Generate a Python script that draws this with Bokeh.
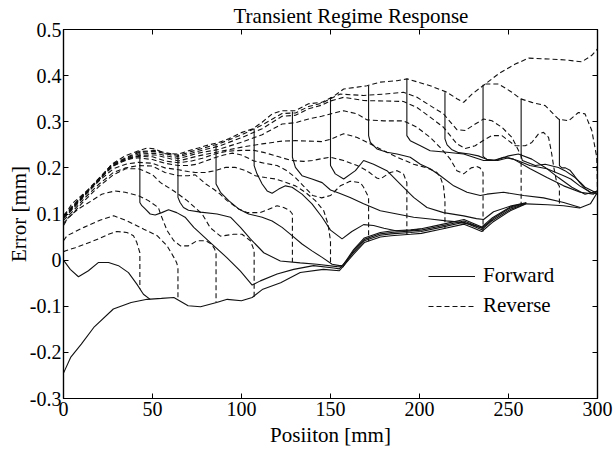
from bokeh.plotting import figure
from bokeh.models import FixedTicker, LinearAxis, Range1d, Legend, LegendItem
from bokeh.embed import file_html
from bokeh.resources import INLINE

# ---------------- data (Position [mm], Error [mm]) ----------------
title_text = "Transient Regime Response"
x_ticks = [0, 50, 100, 150, 200, 250, 300]
y_ticks = [-0.3, -0.2, -0.1, 0, 0.1, 0.2, 0.3, 0.4, 0.5]
y_tick_labels = ["-0.3", "-0.2", "-0.1", "0", "0.1", "0.2", "0.3", "0.4", "0.5"]

# Forward (solid) curves
S0_x = [0,4,10,17,28,38,47,55,62,70,77,86,92,100,106,112,122,133,146,155,163,169,178,184,195,201,212,225,230,235,241,251,260,272,281,290,296,300]
S0_y = [-0.245,-0.211,-0.182,-0.146,-0.106,-0.092,-0.085,-0.083,-0.081,-0.099,-0.101,-0.092,-0.085,-0.088,-0.081,-0.063,-0.049,-0.027,-0.020,-0.023,0.013,0.038,0.050,0.053,0.056,0.058,0.067,0.078,0.070,0.062,0.082,0.107,0.122,0.120,0.118,0.113,0.122,0.147]
SA_x = [0,3.8,8.4,14,19.7,25.3,30.9,36.5,41.2,44.9,48.7]
SA_y = [0.0,-0.02,-0.036,-0.023,-0.005,-0.005,-0.012,-0.027,-0.052,-0.074,-0.085]
SB1_x = [42.9,42.9,44,45.9,48.7,51.5,55.2,59,63.6,68.3,73.2,82.5,91.9,99.4,106,110.6,120,129.3,140.5,151.8,155,163,169,178,184,195,201,212,225,230,235,241,251,260]
SB1_y = [0.237,0.125,0.118,0.111,0.1,0.098,0.103,0.109,0.103,0.093,0.071,0.038,0.005,-0.024,-0.054,-0.045,-0.03,-0.02,-0.012,-0.017,-0.019,0.017,0.042,0.054,0.057,0.06,0.062,0.071,0.082,0.074,0.066,0.086,0.11,0.123]
SB2_x = [64.3,64.3,65.5,67.4,70.2,77,86.3,93.8,99.4,105,112.5,121.8,133,142.4,153.7,157,163,169,178,184,195,201,212,225,230,235,241,251,260]
SB2_y = [0.23,0.136,0.125,0.114,0.108,0.104,0.1,0.093,0.071,0.046,0.016,-0.002,-0.006,-0.009,-0.014,-0.015,0.02,0.045,0.057,0.06,0.063,0.065,0.074,0.085,0.077,0.069,0.089,0.113,0.124]
SB3_x = [85.7,85.7,88.2,92.8,98.4,104,111.6,117.2,122.8,128.4,134,139.6,145.3,150.9,155,157,163,169,178,184,195,201,212,225,230,235,241,251,260]
SB3_y = [0.25,0.165,0.147,0.129,0.111,0.1,0.093,0.085,0.071,0.053,0.035,0.02,0.006,-0.009,-0.012,-0.011,0.023,0.048,0.06,0.063,0.066,0.068,0.077,0.088,0.08,0.072,0.092,0.115,0.125]
SB4_x = [107.1,107.1,108.7,111.6,114.4,117.2,120.9,124.7,128.4,134,139.6,145.3,150,156.5,162,168.6,174.2,180,187.4,195,201]
SB4_y = [0.284,0.205,0.187,0.165,0.15,0.145,0.154,0.161,0.158,0.143,0.122,0.093,0.065,0.046,0.062,0.077,0.075,0.069,0.063,0.064,0.068]
SB5_x = [128.6,128.6,130.3,134,139.6,145.3,150,155,161,168.6,178,187.4,196.7,206,215,221,228,235,241]
SB5_y = [0.322,0.223,0.201,0.183,0.176,0.168,0.152,0.145,0.136,0.122,0.107,0.1,0.093,0.089,0.085,0.083,0.078,0.07,0.088]
SB6_x = [150,150,152.7,157.4,164,168.6,174.2,181.7,189.2,196.7,204.2,213.5,224.8,232,236,241.6,251,258.5]
SB6_y = [0.353,0.205,0.187,0.176,0.194,0.216,0.208,0.194,0.165,0.136,0.114,0.103,0.096,0.09,0.088,0.105,0.117,0.123]
SB7_x = [171.4,171.4,172.4,176.1,181.7,187.4,194.8,200.5,206,211.7,219.2,226.7,234.1,237.9,247.2,258.5,269.7,281,290.3]
SB7_y = [0.378,0.27,0.255,0.241,0.234,0.23,0.223,0.208,0.198,0.183,0.161,0.147,0.14,0.143,0.147,0.14,0.135,0.125,0.114]
SB8_x = [192.9,192.9,194.8,200.5,206,215.4,224.8,230.4,236,241.6,247.2,252.8,262.2,271.6,281,290.3,297.8,300]
SB8_y = [0.393,0.27,0.259,0.248,0.237,0.234,0.23,0.223,0.216,0.216,0.223,0.219,0.198,0.179,0.161,0.147,0.143,0.15]
SB9_x = [214.3,214.3,215.5,218,222,228,233,238,244,250,255,262,271.6,281,285,290,296,300]
SB9_y = [0.364,0.263,0.25,0.24,0.233,0.23,0.226,0.218,0.216,0.222,0.216,0.205,0.198,0.183,0.176,0.161,0.147,0.143]
SB10_x = [235.7,235.7,238,242.6,250,255.6,263.1,270.6,278,285.6,293,300]
SB10_y = [0.38,0.225,0.218,0.216,0.226,0.23,0.219,0.201,0.179,0.158,0.143,0.15]
SB11_x = [257.1,257.1,257.8,260.4,265,270.6,278,281.7,287.4,290.5,293,298.7,300]
SB11_y = [0.35,0.225,0.216,0.212,0.205,0.208,0.201,0.194,0.179,0.168,0.158,0.147,0.15]
SB12_x = [278.6,278.6,280,282,284.5,287,290,293,296,300]
SB12_y = [0.306,0.205,0.2,0.2,0.195,0.183,0.168,0.155,0.147,0.145]

# Reverse (dashed) curves
R0_x = [0,1,4.7,12.2,19.7,27.1,34.6,42.1,46.8,51.5,57.1,64.6,70.2,75.8,79.7,87.2,92.8,100.3,106,111.6,117.2,122.8,130.3,137.7,145,150.9,157.4,165,170.5,178,187.4,193,206,215.4,221,224.8,229.5,237,244.4,253.8,261.3,272.5,282,291.2,296.8,300]
R0_y = [0.098,0.1,0.122,0.147,0.172,0.208,0.226,0.237,0.243,0.241,0.231,0.23,0.237,0.243,0.248,0.255,0.263,0.277,0.284,0.299,0.317,0.324,0.324,0.339,0.342,0.353,0.371,0.375,0.378,0.386,0.389,0.393,0.378,0.364,0.35,0.342,0.36,0.382,0.404,0.425,0.438,0.436,0.434,0.43,0.444,0.458]
DB_x = [237,244.4,251.9,256.6,263.1,270.6,276.2,278,283.7,289.3,293,296.8,299.6,300]
DB_y = [0.382,0.382,0.364,0.35,0.342,0.335,0.313,0.306,0.302,0.32,0.317,0.281,0.223,0.15]
RA1_x = [0,0.9,6.6,12.2,19.7,25.3,29.9,35.6,39.3,41.2,42.9,42.9]
RA1_y = [0.018,0.02,0.027,0.035,0.046,0.056,0.062,0.06,0.053,0.038,0.016,-0.062]
RA2_x = [0,2,11.4,20.8,28.2,35.8,45.1,52.6,58.2,62,63.5,64.3,64.3]
RA2_y = [0.042,0.053,0.071,0.087,0.096,0.085,0.067,0.053,0.031,0.006,-0.005,-0.016,-0.081]
RA3_x = [0,2.8,8.4,15.9,21.5,29,34.6,42,47.7,53.3,54.5,58.2,62,65.7,70.2,75,80,83,84.8,85.7,85.7]
RA3_y = [0.075,0.093,0.111,0.129,0.143,0.15,0.147,0.14,0.129,0.114,0.1,0.064,0.042,0.031,0.031,0.042,0.042,0.035,0.025,0.016,-0.092]
RA4_x = [0,5,12,20,28,35,42,45,50,54.5,62,69.5,77.9,82.5,88.2,95.6,100.3,105,106.5,107.1,107.1]
RA4_y = [0.08,0.1,0.13,0.16,0.185,0.198,0.198,0.194,0.185,0.168,0.15,0.129,0.1,0.07,0.052,0.056,0.056,0.042,0.027,0.02,-0.08]
RA5_x = [0,5,12,20,28,35,42,50,57,64.6,70,74,80,85,88,91.9,98.4,103.1,110.6,115,120,123.7,127,128.6,128.6]
RA5_y = [0.086,0.105,0.135,0.165,0.19,0.2,0.205,0.204,0.19,0.183,0.183,0.185,0.165,0.152,0.143,0.129,0.111,0.103,0.103,0.11,0.118,0.114,0.108,0.1,-0.004]
RA6_x = [0,5,12,20,28,35,42,50,57,64.6,70,74,79.7,85.3,91,96.6,102.2,107.8,113.4,119,124.7,130.3,135.9,141.5,146.2,148.6,150,150]
RA6_y = [0.09,0.11,0.14,0.172,0.198,0.208,0.212,0.21,0.2,0.196,0.192,0.19,0.19,0.194,0.201,0.201,0.194,0.183,0.179,0.176,0.169,0.161,0.147,0.129,0.107,0.078,0.042,-0.009]
RA7_x = [0,5,12,20,28,35,42,50,57,64.6,70,75,80,85,90,95,100,107,113,120,125,130,135,140,145,150,155.5,161,166.8,168.6,171.4,171.4]
RA7_y = [0.092,0.112,0.142,0.175,0.204,0.218,0.222,0.218,0.21,0.205,0.205,0.208,0.215,0.222,0.228,0.232,0.228,0.215,0.21,0.205,0.195,0.18,0.16,0.14,0.135,0.14,0.161,0.171,0.168,0.158,0.136,0.041]
RA8_x = [0,5,12,20,28,35,42,50,57,64.6,72,78,85,92,100,107,113,120,128,135,140,145,150,157.4,165,170.5,176,178,183.6,187.4,191,192.9,192.9]
RA8_y = [0.093,0.113,0.143,0.176,0.205,0.22,0.225,0.224,0.215,0.211,0.215,0.221,0.23,0.236,0.238,0.238,0.233,0.225,0.216,0.214,0.216,0.22,0.223,0.216,0.205,0.194,0.178,0.176,0.19,0.194,0.187,0.168,0.055]
RA9_x = [0,12.2,27.1,42.1,51.5,64.6,75.8,87.2,100.3,111.6,122.8,130.3,137.7,145,150,157.4,165,172.4,180,187.4,196.7,204.2,209.8,211.7,213.5,214.3,214.3]
RA9_y = [0.094,0.143,0.204,0.227,0.228,0.215,0.226,0.235,0.245,0.252,0.258,0.259,0.258,0.257,0.262,0.274,0.266,0.252,0.237,0.223,0.208,0.2,0.19,0.18,0.16,0.13,0.068]
RA10_x = [0,12.2,27.1,42.1,51.5,64.6,75.8,87.2,100.3,111.6,122.8,130.3,137.7,145,150,157.4,165,170.5,180,191,198.6,206,211.7,217.3,221,224.8,229,232,234,235.7,235.7]
RA10_y = [0.095,0.144,0.205,0.23,0.232,0.22,0.232,0.24,0.256,0.272,0.295,0.298,0.306,0.312,0.317,0.324,0.317,0.304,0.302,0.302,0.288,0.266,0.244,0.219,0.194,0.187,0.2,0.203,0.2,0.19,0.062]
RA11_x = [0,12.2,27.1,42.1,51.5,64.6,75.8,87.2,100.3,111.6,122.8,130.3,137.7,145,150,155.5,168.6,180,191,198.6,206,213.5,221,225.7,231.3,236,240.7,246.3,251.9,253.8,255.7,257.1,257.1]
RA11_y = [0.097,0.146,0.207,0.235,0.238,0.227,0.24,0.252,0.272,0.293,0.318,0.319,0.333,0.34,0.35,0.36,0.357,0.36,0.364,0.353,0.335,0.317,0.283,0.281,0.295,0.306,0.302,0.288,0.266,0.252,0.237,0.23,0.122]
RA12_x = [0,12.2,27.1,42.1,51.5,64.6,75.8,87.2,100.3,111.6,122.8,130.3,137.7,145,150,157.4,168.6,180,191,198.6,206,213.5,221,225.7,231.3,236,240.7,246.3,250,253.8,259.4,263.1,266.9,269.7,272.5,274,275.5,277,278.6,278.6]
RA12_y = [0.096,0.145,0.206,0.233,0.236,0.224,0.236,0.247,0.266,0.285,0.312,0.314,0.328,0.336,0.345,0.353,0.346,0.345,0.344,0.331,0.31,0.288,0.252,0.242,0.248,0.26,0.27,0.27,0.259,0.248,0.248,0.255,0.274,0.277,0.266,0.237,0.2,0.17,0.16,0.118]

forward = [(S0_x, S0_y), (SA_x, SA_y), (SB1_x, SB1_y), (SB2_x, SB2_y), (SB3_x, SB3_y),
           (SB4_x, SB4_y), (SB5_x, SB5_y), (SB6_x, SB6_y), (SB7_x, SB7_y), (SB8_x, SB8_y),
           (SB9_x, SB9_y), (SB10_x, SB10_y), (SB11_x, SB11_y), (SB12_x, SB12_y)]
reverse = [(R0_x, R0_y), (DB_x, DB_y), (RA1_x, RA1_y), (RA2_x, RA2_y), (RA3_x, RA3_y),
           (RA4_x, RA4_y), (RA5_x, RA5_y), (RA6_x, RA6_y), (RA7_x, RA7_y), (RA8_x, RA8_y),
           (RA9_x, RA9_y), (RA10_x, RA10_y), (RA11_x, RA11_y), (RA12_x, RA12_y)]

# ---------------- figure ----------------
FONT = "Liberation Serif"
p = figure(width=615, height=452, x_range=Range1d(0, 300), y_range=Range1d(-0.3, 0.5),
           output_backend="svg", toolbar_location=None,
           min_border_left=63, min_border_right=18, min_border_top=29, min_border_bottom=54)
p.background_fill_color = "white"
p.border_fill_color = "white"
p.grid.visible = False
p.outline_line_color = "black"
p.outline_line_width = 1.2

p.title.text = title_text
p.title.text_font = FONT
p.title.text_font_size = "21px"
p.title.text_font_style = "normal"
p.title.text_color = "black"
p.title.align = "left"
p.title.offset = 170
p.title.vertical_align = "top"
p.title.standoff = 0

LINE_COLOR = "#111111"
LW = 1.1
r_fwd = None
for xs, ys in forward:
    r = p.line(xs, ys, line_color=LINE_COLOR, line_width=LW)
    if r_fwd is None:
        r_fwd = r
r_rev = None
for xs, ys in reverse:
    r = p.line(xs, ys, line_color=LINE_COLOR, line_width=LW, line_dash="5 3")
    if r_rev is None:
        r_rev = r

def style_axis(ax, ticks):
    ax.ticker = FixedTicker(ticks=ticks)
    ax.major_tick_in = 5
    ax.major_tick_out = 0
    ax.minor_tick_in = 0
    ax.minor_tick_out = 0
    ax.axis_line_color = "black"
    ax.axis_line_width = 1.2
    ax.major_tick_line_color = "black"
    ax.major_tick_line_width = 1

xa = p.xaxis[0]
style_axis(xa, x_ticks)
xa.major_label_text_font = FONT
xa.major_label_text_font_size = "20px"
xa.major_label_text_color = "black"
xa.major_label_standoff = 3
xa.axis_label = "Posiiton [mm]"
xa.axis_label_text_font = FONT
xa.axis_label_text_font_size = "21px"
xa.axis_label_text_font_style = "normal"
xa.axis_label_text_color = "black"
xa.axis_label_standoff = 4

ya = p.yaxis[0]
style_axis(ya, y_ticks)
ya.major_label_overrides = {t: s for t, s in zip(y_ticks, y_tick_labels)}
ya.major_label_text_font = FONT
ya.major_label_text_font_size = "20px"
ya.major_label_text_color = "black"
ya.major_label_text_baseline = "alphabetic"
ya.major_label_standoff = 2
ya.axis_label = "Error [mm]"
ya.axis_label_text_font = FONT
ya.axis_label_text_font_size = "21px"
ya.axis_label_text_font_style = "normal"
ya.axis_label_text_color = "black"
ya.axis_label_standoff = -4

# mirrored inward ticks on the top and right edges (no labels drawn)
top_ax = LinearAxis()
style_axis(top_ax, x_ticks)
top_ax.major_label_text_font_size = "1px"
top_ax.major_label_text_color = None
top_ax.major_label_text_alpha = 0
top_ax.major_label_standoff = 0
p.add_layout(top_ax, "above")

right_ax = LinearAxis()
style_axis(right_ax, y_ticks)
right_ax.major_label_text_font_size = "1px"
right_ax.major_label_text_color = None
right_ax.major_label_text_alpha = 0
right_ax.major_label_standoff = 0
p.add_layout(right_ax, "right")

legend = Legend(items=[LegendItem(label="Forward", renderers=[r_fwd]),
                       LegendItem(label="Reverse", renderers=[r_rev])],
                location=(365, 80), orientation="vertical",
                border_line_color=None, background_fill_alpha=0,
                label_text_font=FONT, label_text_font_size="21px", label_text_color="black",
                glyph_width=47, glyph_height=20, label_height=20, label_standoff=8,
                spacing=5, padding=0, margin=0)
p.add_layout(legend)

open("out.html", "w").write(file_html(p, INLINE))
